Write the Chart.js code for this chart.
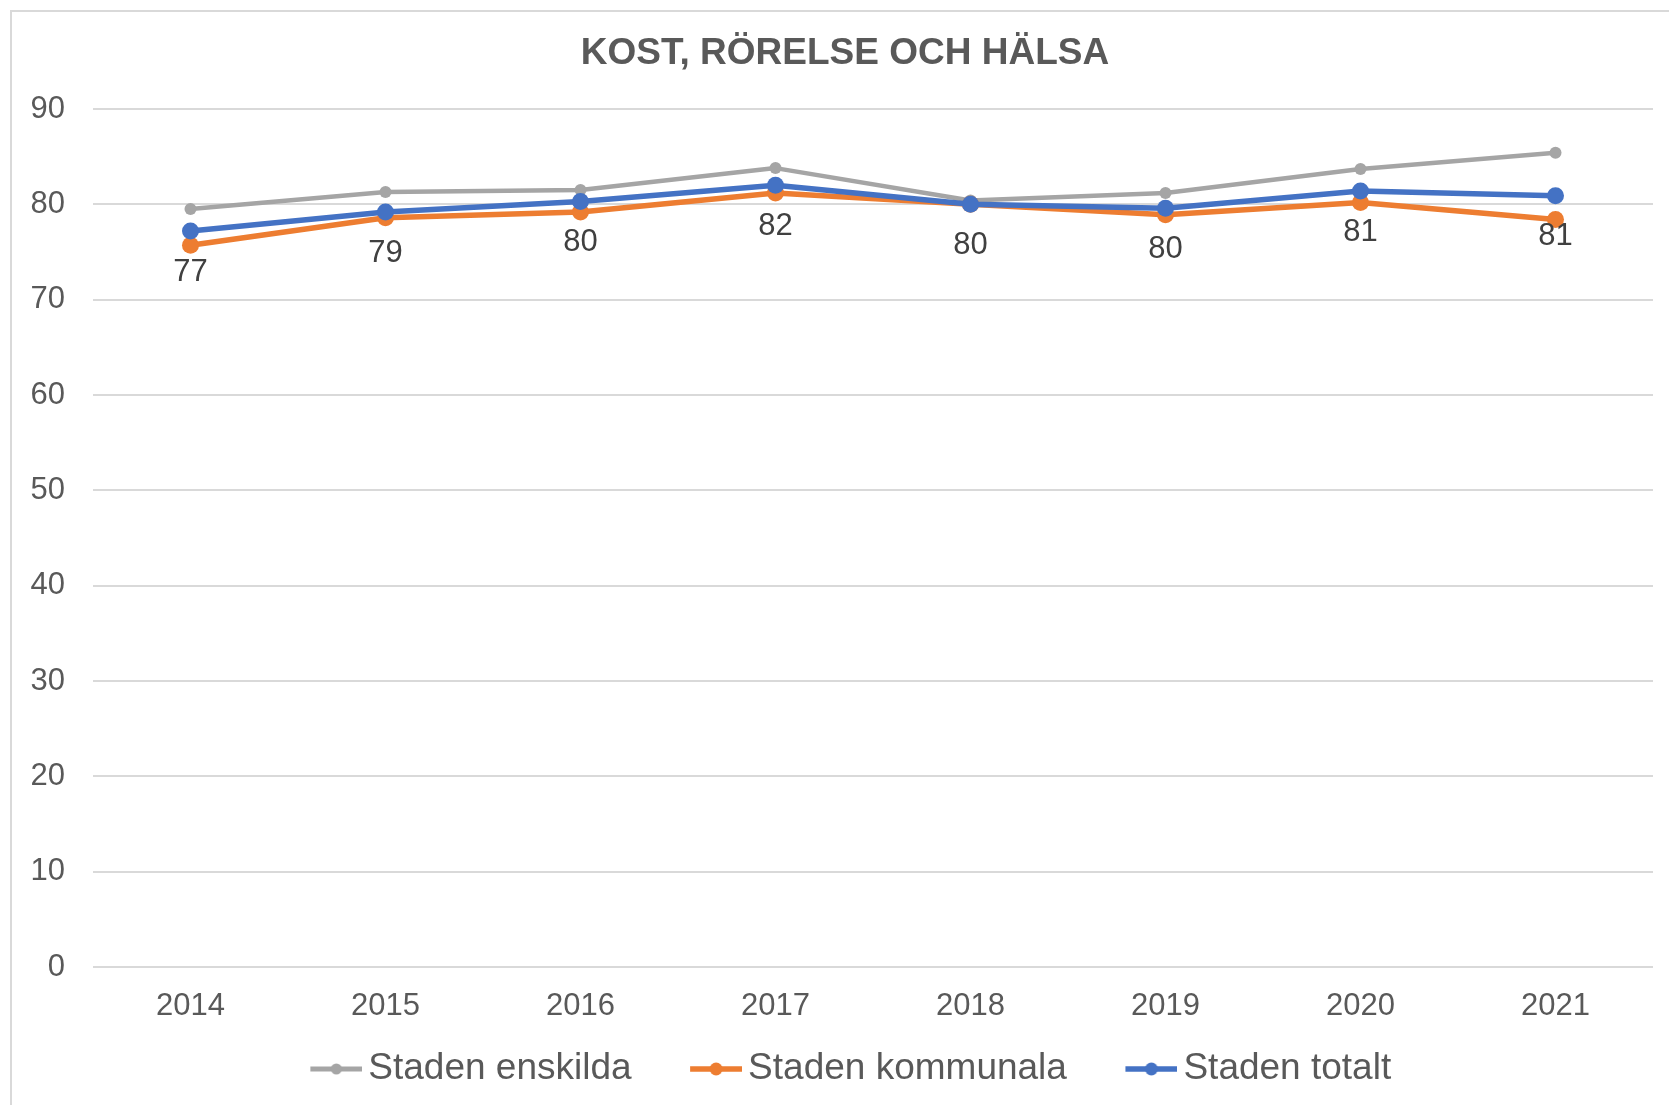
<!DOCTYPE html>
<html><head><meta charset="utf-8">
<script src="https://cdn.jsdelivr.net/npm/chart.js@4.4.1/dist/chart.umd.min.js"></script>
<style>
html,body{margin:0;padding:0;background:#fff;overflow:hidden}
#wrap{position:relative;width:1669px;height:1105px}
#frame{position:absolute;left:10px;top:10px;right:0;bottom:0;border-left:2px solid #d9d9d9;border-top:2px solid #d9d9d9}
canvas{position:absolute;left:0;top:0}
</style></head><body>
<div id="wrap"><div id="frame"></div><canvas id="c" width="1669" height="1105"></canvas></div>
<script>
const chartTitle = 'KOST, RÖRELSE OCH HÄLSA';
const categories = ['2014','2015','2016','2017','2018','2019','2020','2021'];
const seriesNames = ['Staden enskilda','Staden kommunala','Staden totalt'];
const enskilda  = [79.5, 81.3, 81.5, 83.8, 80.4, 81.2, 83.7, 85.4];
const kommunala = [75.7, 78.6, 79.2, 81.2, 80.0, 78.9, 80.2, 78.4];
const totalt    = [77.2, 79.2, 80.3, 82.0, 80.0, 79.6, 81.4, 80.9];
const yMin = 0, yMax = 90, yStep = 10;

const FONT = '"Liberation Sans", Arial, sans-serif';
const colors = ['#A5A5A5', '#ED7D31', '#4472C4'];

function legendSymbol(color, lw, r) {
  const w = 113, h = 22;
  const c = document.createElement('canvas');
  c.width = w; c.height = h;
  const g = c.getContext('2d');
  g.strokeStyle = color; g.lineWidth = lw; g.lineCap = 'butt';
  g.beginPath(); g.moveTo(w - 52, h / 2); g.lineTo(w, h / 2); g.stroke();
  g.fillStyle = color;
  g.beginPath(); g.arc(w - 26, h / 2, r, 0, Math.PI * 2); g.fill();
  return c;
}
const symbols = [legendSymbol(colors[0], 5, 5.5), legendSymbol(colors[1], 5.5, 6.5), legendSymbol(colors[2], 5.5, 6.5)];

const titlePlugin = {
  id: 'customTitle',
  afterDraw(chart) {
    const ctx = chart.ctx;
    ctx.save();
    ctx.font = '700 37px ' + FONT;
    ctx.fillStyle = '#595959';
    ctx.textAlign = 'center';
    ctx.textBaseline = 'middle';
    ctx.fillText(chartTitle, 845, 54);
    ctx.restore();
  }
};

const labelPlugin = {
  id: 'valueLabels',
  afterDatasetsDraw(chart) {
    const ctx = chart.ctx;
    const meta = chart.getDatasetMeta(2);
    const data = chart.data.datasets[2].data;
    ctx.save();
    ctx.font = '31px ' + FONT;
    ctx.fillStyle = '#404040';
    ctx.textAlign = 'center';
    ctx.textBaseline = 'middle';
    meta.data.forEach((pt, i) => {
      ctx.fillText(String(Math.round(data[i])), pt.x, pt.y + 41);
    });
    ctx.restore();
  }
};

new Chart(document.getElementById('c'), {
  type: 'line',
  data: {
    labels: categories,
    datasets: [
      { label: seriesNames[0], data: enskilda, borderColor: colors[0], backgroundColor: colors[0],
        borderWidth: 4.5, pointRadius: 6, pointBorderWidth: 0, pointBackgroundColor: colors[0], order: 3 },
      { label: seriesNames[1], data: kommunala, borderColor: colors[1], backgroundColor: colors[1],
        borderWidth: 5.5, pointRadius: 8.5, pointBorderWidth: 0, pointBackgroundColor: colors[1], order: 2 },
      { label: seriesNames[2], data: totalt, borderColor: colors[2], backgroundColor: colors[2],
        borderWidth: 5.5, pointRadius: 8.5, pointBorderWidth: 0, pointBackgroundColor: colors[2], order: 1 }
    ]
  },
  options: {
    responsive: false,
    animation: false,
    devicePixelRatio: 1,
    events: [],
    layout: { padding: { top: 109, left: 0, right: 16, bottom: 7.5 } },
    elements: { line: { tension: 0, borderJoinStyle: 'round', borderCapStyle: 'round' } },
    scales: {
      x: {
        type: 'category',
        offset: true,
        grid: { display: false },
        border: { display: false },
        ticks: { font: { family: FONT, size: 31 }, color: '#595959', padding: 13, maxRotation: 0 },
        afterFit(scale) { scale.height = 73.5; }
      },
      y: {
        min: yMin, max: yMax,
        ticks: { stepSize: yStep, font: { family: FONT, size: 31 }, color: '#595959', padding: 28 },
        grid: { color: '#d9d9d9', lineWidth: 2, drawTicks: false },
        border: { display: false },
        afterFit(scale) { scale.width = 93; }
      }
    },
    plugins: {
      title: { display: false },
      tooltip: { enabled: false },
      legend: {
        position: 'bottom',
        labels: {
          font: { family: FONT, size: 37 },
          color: '#595959',
          padding: 10,
          usePointStyle: true,
          pointStyleWidth: 88,
          generateLabels(chart) {
            const items = Chart.defaults.plugins.legend.labels.generateLabels(chart);
            items.forEach((it) => { it.pointStyle = symbols[it.datasetIndex]; });
            items.sort((a, b) => a.datasetIndex - b.datasetIndex);
            return items;
          }
        }
      }
    }
  },
  plugins: [titlePlugin, labelPlugin]
});
</script>
</body></html>
